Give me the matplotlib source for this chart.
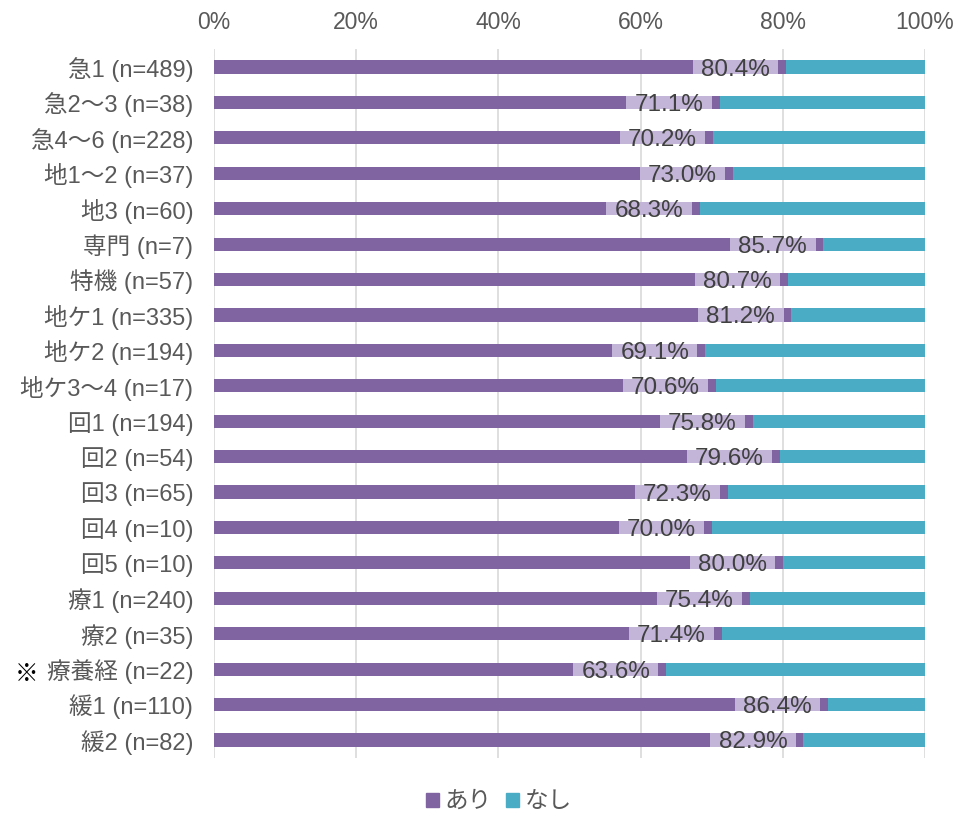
import matplotlib
matplotlib.use("Agg")
import matplotlib.pyplot as plt
from matplotlib.patches import Patch

plt.rcParams['font.family'] = ['Liberation Sans', 'Noto Sans CJK JP', 'DejaVu Sans']

categories = ["急1 (n=489)", "急2～3 (n=38)", "急4～6 (n=228)", "地1～2 (n=37)", "地3 (n=60)",
              "専門 (n=7)", "特機 (n=57)", "地ケ1 (n=335)", "地ケ2 (n=194)", "地ケ3～4 (n=17)",
              "回1 (n=194)", "回2 (n=54)", "回3 (n=65)", "回4 (n=10)", "回5 (n=10)",
              "療1 (n=240)", "療2 (n=35)", "療養経 (n=22)", "緩1 (n=110)", "緩2 (n=82)"]
note_index = 17
note_mark = "※"
ari = [80.4, 71.1, 70.2, 73.0, 68.3, 85.7, 80.7, 81.2, 69.1, 70.6,
       75.8, 79.6, 72.3, 70.0, 80.0, 75.4, 71.4, 63.6, 86.4, 82.9]
nashi = [100 - v for v in ari]
series_names = ["あり", "なし"]
xticks = [0, 20, 40, 60, 80, 100]

purple = '#8064a2'
teal = '#4bacc6'
boxc = '#c3b5d8'
txt = '#595959'

fig = plt.figure(figsize=(9.54, 8.18), dpi=100)
ax = fig.add_axes([214/954, 1 - 757.7/818, (925-214)/954, (757.7-49.3)/818])

y = list(range(len(categories)))
h = 0.37
ax.barh(y, ari, height=h, color=purple, zorder=2)
ax.barh(y, nashi, left=ari, height=h, color=teal, zorder=2)

for i, v in enumerate(ari):
    ax.barh(i, 12.0, left=v - 13.1, height=h, color=boxc, zorder=3)
    ax.text(v - 7.1, i, f"{v:.1f}%", ha='center', va='center_baseline', fontsize=17.5,
            color='#404040', zorder=4)

ax.set_xlim(0, 100)
ax.set_ylim(len(categories) - 0.5, -0.5)
ax.set_xticks(xticks)
ax.set_xticklabels([f"{t}%" for t in xticks], fontsize=16.5, color=txt)
ax.xaxis.tick_top()
ax.tick_params(axis='x', length=0, pad=11)
ax.set_yticks(y)
ax.set_yticklabels(categories, fontsize=17, color=txt)
ax.tick_params(axis='y', length=0, pad=15)
ax.grid(axis='x', color='#d9d9d9', linewidth=1.2, zorder=0)
ax.set_axisbelow(True)
for s in ax.spines.values():
    s.set_visible(False)

handles = [Patch(color=purple), Patch(color=teal)]
fig.legend(handles, series_names, loc='lower center', bbox_to_anchor=(0.523, -0.02),
           ncol=2, frameon=False, fontsize=17, handlelength=0.55, handleheight=0.55,
           handletextpad=0.25, columnspacing=0.6, labelcolor=txt)

fig.canvas.draw()
lab = ax.get_yticklabels()[note_index]
bb = lab.get_window_extent()
fx, fy = fig.transFigure.inverted().transform((bb.x0 - 8, (bb.y0 + bb.y1) / 2))
fig.text(fx, fy, note_mark, ha='right', va='center_baseline', fontsize=17,
         color='black', fontweight='bold', family=['Noto Sans CJK JP', 'DejaVu Sans'])

fig.savefig("out.png", dpi=100)
